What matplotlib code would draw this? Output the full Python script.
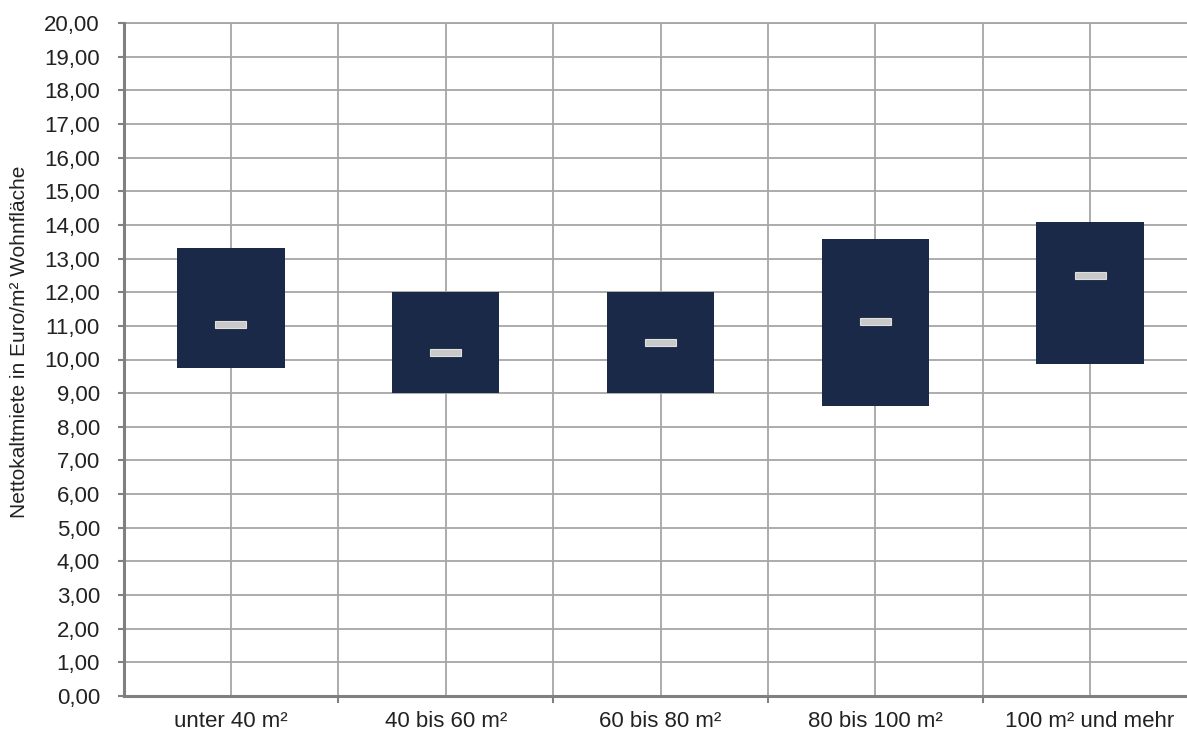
import matplotlib
matplotlib.use("Agg")
import matplotlib.pyplot as plt
import numpy as np

plt.rcParams['font.family'] = ['Liberation Sans', 'DejaVu Sans']

categories = ["unter 40 m²", "40 bis 60 m²", "60 bis 80 m²", "80 bis 100 m²", "100 m² und mehr"]
rent_low = [9.75, 9.00, 9.00, 8.63, 9.87]
rent_high = [13.30, 12.00, 12.00, 13.57, 14.10]
rent_median = [11.05, 10.20, 10.50, 11.13, 12.50]

y_ticks = np.arange(0, 21, 1)
y_labels = [f"{v:.2f}".replace(".", ",") for v in y_ticks]

W, H = 1187, 733
fig = plt.figure(figsize=(W / 100, H / 100), dpi=100)
left, right = 123.5 / W, 1197.5 / W
bottom, top = (H - 696) / H, (H - 23) / H
ax = fig.add_axes([left, bottom, right - left, top - bottom])

x = np.arange(len(categories))
box_color = "#1b2948"
grid_color = "#a6a6a6"
axis_color = "#808080"

ax.set_xlim(-0.5, len(categories) - 0.5)
ax.set_ylim(0, 20)

# Gridlines: horizontal at every unit, vertical at category centres and boundaries
for v in y_ticks[1:]:
    ax.axhline(v, color=grid_color, lw=1.3, zorder=0)
for xc in x:
    ax.axvline(xc, color=grid_color, lw=1.3, zorder=0)
for xb in x[:-1] + 0.5:
    ax.axvline(xb, color=grid_color, lw=1.3, zorder=0)

# Range boxes (low to high) and median markers
heights = np.array(rent_high) - np.array(rent_low)
ax.bar(x, heights, bottom=rent_low, width=0.5, color=box_color, zorder=3)
med_h = 0.2
ax.bar(x, med_h, bottom=np.array(rent_median) - med_h / 2, width=0.145,
       color="#c9c9c9", edgecolor="#e0e0e0", lw=0.8, zorder=4)

ax.set_yticks(y_ticks)
ax.set_yticklabels(y_labels, fontsize=16, color="#222222")
ax.tick_params(axis="y", direction="out", length=4, width=1.5, color=axis_color, pad=13)

ax.set_xticks(x)
ax.set_xticklabels(categories, fontsize=16, color="#222222")
ax.tick_params(axis="x", which="major", length=0, pad=11)
ax.set_xticks(x[:-1] + 0.5, minor=True)
ax.tick_params(axis="x", which="minor", direction="out", length=5, width=1.5, color=axis_color)

for s in ["top", "right"]:
    ax.spines[s].set_visible(False)
for s in ["left", "bottom"]:
    ax.spines[s].set_color(axis_color)
    ax.spines[s].set_linewidth(2.2)
ax.axhline(20, color=grid_color, lw=1.3, zorder=0, clip_on=False)

fig.text(20 / W, (H - 342) / H, "Nettokaltmiete in Euro/m² Wohnfläche", rotation=90,
         ha="center", va="center", fontsize=15, color="#222222")

fig.savefig("out.png", dpi=100)
